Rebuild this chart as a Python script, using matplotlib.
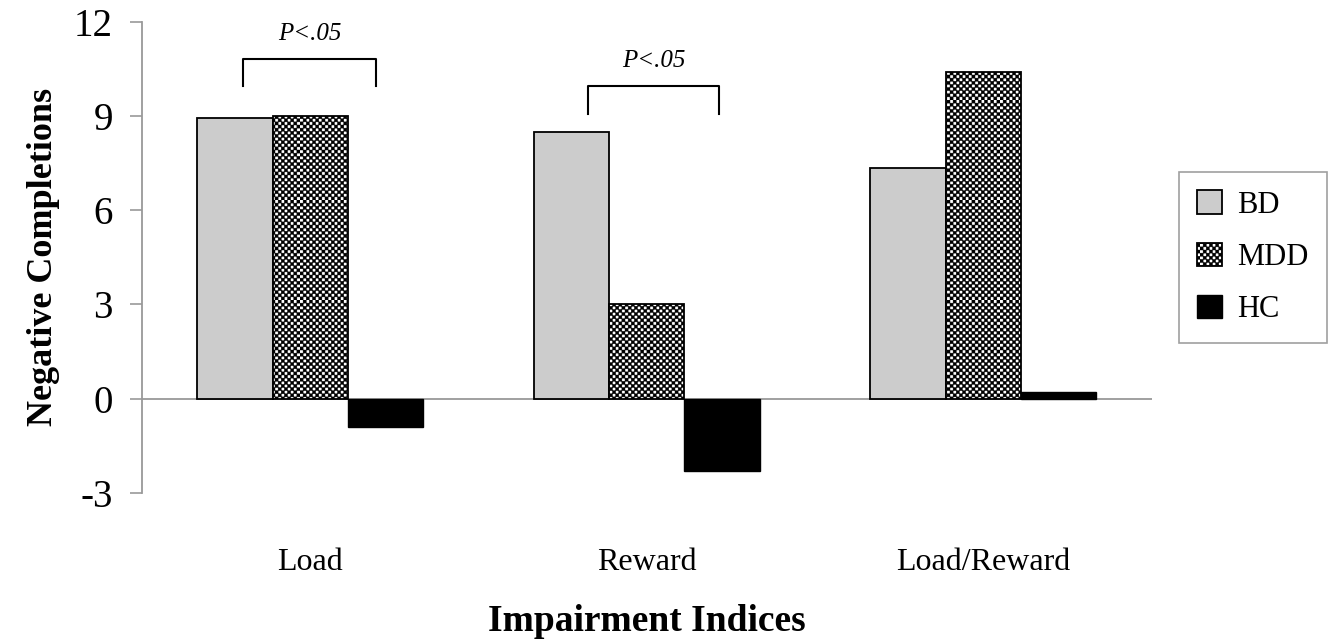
import numpy as np
import matplotlib
matplotlib.use("Agg")
import matplotlib.pyplot as plt
import matplotlib.hatch as mhatch
from matplotlib.path import Path

# data
categories = ["Load", "Reward", "Load/Reward"]
groups = ["BD", "MDD", "HC"]
bd = [8.95, 8.5, 7.35]
mdd = [9.0, 3.0, 10.4]
hc = [-0.9, -2.3, 0.2]
yticks = [-3, 0, 3, 6, 9, 12]

# significance brackets: (left x, right x, top y, leg bottom y), label
brackets = [(0.30, 0.695, 10.8, 9.95), (1.325, 1.715, 9.95, 9.05)]
sig_text = "P<.05"


# checkerboard hatch, 'c' repeated sets the density
class Checker(mhatch.HatchPatternBase):
    def __init__(self, hatch, density):
        self.n = hatch.count('c') * 4
        self.num_vertices = self.n * self.n * 2 * 5

    def set_vertices_and_codes(self, vertices, codes):
        s = 1.0 / self.n
        h = s / 2
        sq = np.array([[0, 0], [h, 0], [h, h], [0, h], [0, 0]])
        sq_codes = [Path.MOVETO, Path.LINETO, Path.LINETO, Path.LINETO, Path.CLOSEPOLY]
        vs, cs = [], []
        for i in range(self.n):
            for j in range(self.n):
                vs.append(sq + [i * s, j * s])
                vs.append(sq + [i * s + h, j * s + h])
                cs += sq_codes * 2
        vertices[:] = np.concatenate(vs)
        codes[:] = cs


mhatch._hatch_types.append(Checker)

plt.rcParams['font.family'] = ['Liberation Serif', 'DejaVu Serif']
plt.rcParams['axes.unicode_minus'] = False
plt.rcParams['hatch.linewidth'] = 0.3
plt.rcParams['hatch.color'] = 'black'

fig = plt.figure(figsize=(13.39, 6.41), dpi=100)
ax = fig.add_axes([0.106, 0.231, 0.754, 0.735])

x = np.arange(len(categories)) + 0.5
w = 0.224
ax.bar(x - w, bd, w, color='#cccccc', edgecolor='black', linewidth=1.3, label='BD')
ax.bar(x, mdd, w, color='white', edgecolor='black', linewidth=1.3, hatch='cccc', label='MDD')
ax.bar(x + w, hc, w, color='black', edgecolor='black', linewidth=1.0, label='HC')

ax.axhline(0, color='#999999', linewidth=1.3, zorder=0)

for x0, x1, ytop, ybot in brackets:
    ax.plot([x0, x0, x1, x1], [ybot, ytop, ytop, ybot], color='black', linewidth=1.5)
    ax.text((x0 + x1) / 2, ytop + 0.45, sig_text, ha='center', va='bottom',
            fontsize=18, style='italic')

ax.set_xlim(0, 3)
ax.set_ylim(-3, 12)
ax.set_yticks(yticks)
ax.set_xticks(x)
ax.set_xticklabels(categories)
ax.tick_params(axis='x', length=0, pad=40, labelsize=23)
ax.tick_params(axis='y', length=9, width=1.2, color='#999999', labelsize=28, pad=12)

for s in ['top', 'right', 'bottom']:
    ax.spines[s].set_visible(False)
ax.spines['left'].set_color('#999999')
ax.spines['left'].set_linewidth(1.3)

ax.set_ylabel('Negative Completions', fontsize=26, fontweight='bold', labelpad=10)
ax.set_xlabel('Impairment Indices', fontsize=27, fontweight='bold', labelpad=19)

leg = ax.legend(loc='center left', bbox_to_anchor=(1.027, 0.5), fontsize=22,
                fancybox=False, edgecolor='#888888', handlelength=0.8,
                handleheight=0.8, handletextpad=0.5, labelspacing=0.75,
                borderpad=0.6, borderaxespad=0)
leg.get_frame().set_linewidth(1.2)

fig.savefig('out.png', dpi=100)
